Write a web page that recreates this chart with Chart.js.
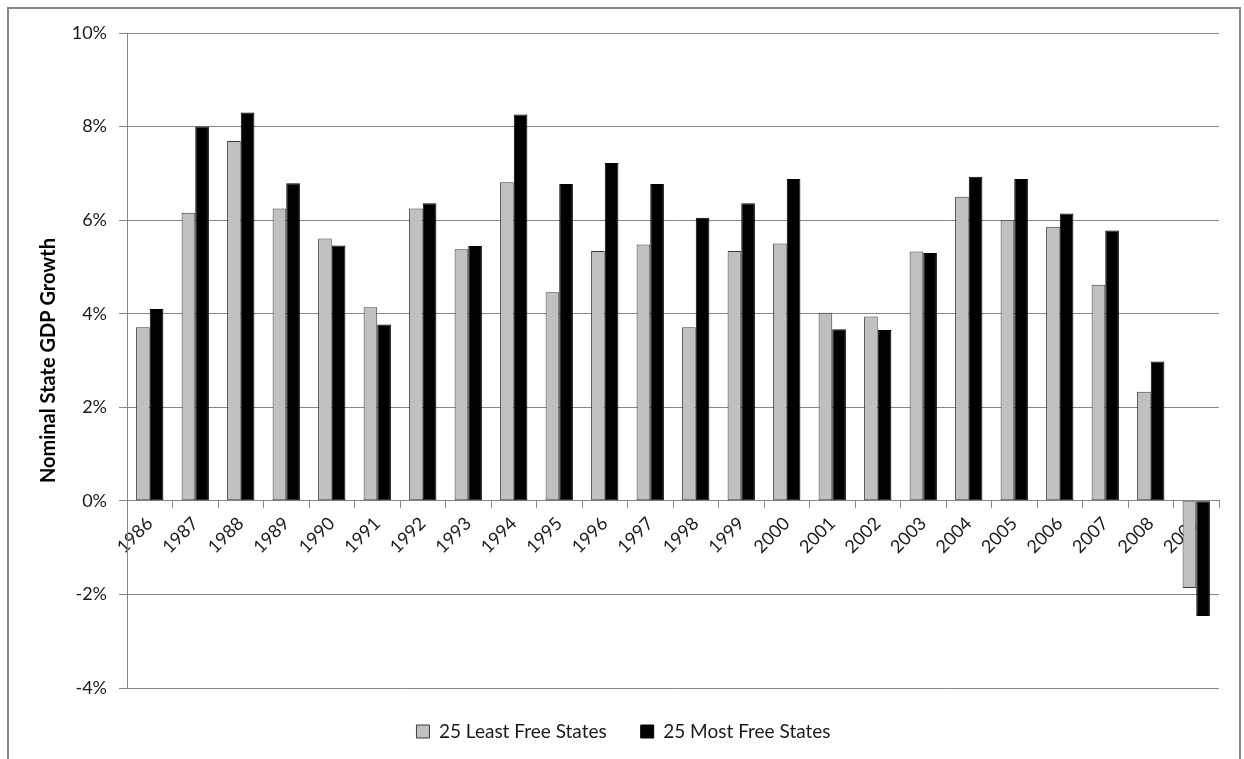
<!DOCTYPE html>
<html>
<head>
<meta charset="utf-8">
<title>Nominal State GDP Growth</title>
<script src="https://cdn.jsdelivr.net/npm/chart.js@4/dist/chart.umd.min.js"></script>
<style>
  html, body { margin: 0; padding: 0; background: #fff; }
  #frame {
    position: absolute; left: 7px; top: 7px;
    width: 1234px; height: 800px;
    border: 2px solid #868686;
    box-sizing: border-box;
  }
  #wrap { position: absolute; left: 0; top: 0; width: 1244px; height: 759px; }
</style>
</head>
<body>
<div id="frame"></div>
<div id="wrap"><canvas id="chart-gdp" width="1244" height="759"></canvas></div>
<script>
// years on the category axis
var years = ['1986','1987','1988','1989','1990','1991','1992','1993','1994','1995','1996','1997',
             '1998','1999','2000','2001','2002','2003','2004','2005','2006','2007','2008','2009'];

// nominal state GDP growth, percent
var leastFree = [3.71, 6.16, 7.69, 6.25, 5.61, 4.14, 6.25, 5.38, 6.81, 4.46, 5.34, 5.48,
                 3.71, 5.34, 5.50, 4.02, 3.94, 5.33, 6.50, 6.00, 5.86, 4.62, 2.33, -1.86];
var mostFree  = [4.10, 8.00, 8.30, 6.79, 5.46, 3.77, 6.36, 5.45, 8.26, 6.77, 7.22, 6.77,
                 6.05, 6.36, 6.88, 3.67, 3.65, 5.30, 6.93, 6.88, 6.14, 5.78, 2.98, -2.46];

var seriesNames = ['25 Least Free States', '25 Most Free States'];
var yTicks = [-4, -2, 0, 2, 4, 6, 8, 10];

var FONT = 'Lato, "Open Sans", sans-serif';
var GRID = '#868686';
var TEXT = '#1a1a1a';

new Chart(document.getElementById('chart-gdp'), {
  type: 'bar',
  data: {
    labels: years,
    datasets: [{
      label: seriesNames[0],
      data: leastFree,
      backgroundColor: '#c0c0c0',
      borderColor: '#3a3a3a',
      borderWidth: 1,
      borderSkipped: false
    }, {
      label: seriesNames[1],
      data: mostFree,
      backgroundColor: '#000000',
      borderColor: '#000000',
      borderWidth: 1,
      borderSkipped: false
    }]
  },
  options: {
    responsive: false,
    animation: false,
    devicePixelRatio: 1,
    categoryPercentage: 0.6,
    barPercentage: 1.0,
    layout: { padding: { left: 28, top: 33, right: 25, bottom: 8 } },
    plugins: {
      tooltip: { enabled: false },
      legend: {
        position: 'bottom',
        labels: {
          color: TEXT,
          font: { family: FONT, size: 19 },
          boxWidth: 13,
          boxHeight: 13,
          padding: 34
        }
      }
    },
    scales: {
      x: {
        // category axis crosses the value axis at 0%
        position: { y: 0 },
        grid: { offset: true, drawOnChartArea: false, drawTicks: true, tickLength: 7, color: GRID },
        border: { color: GRID },
        ticks: {
          color: TEXT,
          font: { family: FONT, size: 18 },
          maxRotation: 45,
          minRotation: 45,
          autoSkip: false,
          padding: 5
        }
      },
      y: {
        min: -4,
        max: 10,
        afterBuildTicks: function (scale) {
          scale.ticks = yTicks.map(function (v) { return { value: v }; });
        },
        afterFit: function (scale) { scale.width = 99; },
        grid: { color: GRID, tickLength: 8 },
        border: { color: GRID },
        ticks: {
          color: TEXT,
          font: { family: FONT, size: 18 },
          padding: 12,
          callback: function (v) { return v + '%'; }
        },
        title: {
          display: true,
          text: 'Nominal State GDP Growth',
          color: '#000',
          font: { family: FONT, size: 20, weight: 'bold' },
          padding: { top: 9, bottom: 0 }
        }
      }
    }
  }
});
</script>
</body>
</html>
